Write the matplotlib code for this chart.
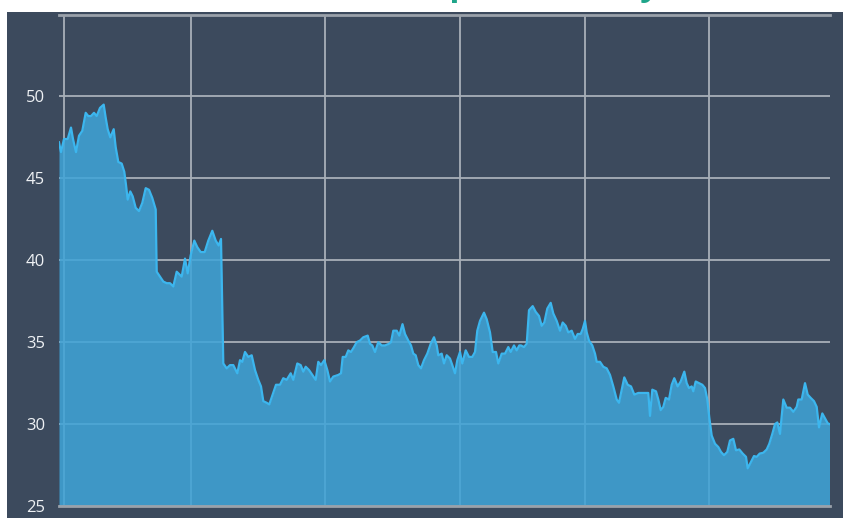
import matplotlib
matplotlib.use("Agg")
import matplotlib.pyplot as plt
from matplotlib.patches import Rectangle

# x position along the time axis (trading-day scale) and price values
t = [0, 2, 5, 8.7, 12, 14, 17, 20, 23.3, 26.7, 29.3, 32, 35, 37.7, 41, 44.7, 46.7, 48.7,
     51.3, 54.7, 56.7, 59.3, 62.7, 65.3, 67, 68.7, 71.3, 73.7, 76.7, 80, 83.3, 86.7, 90,
     93.3, 96.7, 97.7, 101, 104.3, 107.7, 111, 114.3, 117.7, 122.7, 126, 128.7, 131.7,
     135.3, 138.3, 141.7, 145.7, 149.3, 153.3, 156.7, 159.7, 162, 164.3, 167.7, 171,
     174.3, 178.3, 181, 183.3, 186, 189.3, 192.7, 196, 199.3, 202, 204.3, 207.7, 210.3,
     213.7, 217, 221, 224.3, 227.7, 231.7, 234.3, 238.3, 241.7, 244.3, 246.7, 250, 253.3,
     256.7, 259.3, 262, 265.3, 268.3, 271, 274.3, 279.3, 282, 283.7, 286.7, 289.3, 292,
     295, 297.7, 301, 304.3, 308.7, 311, 313.3, 316, 319.3, 322.7, 326, 330, 332, 334.3,
     337.7, 340.3, 343.5, 346, 349.3, 352, 354.3, 356.7, 359.3, 362, 365, 368.3, 371.7,
     375, 377.7, 379.3, 382.7, 385, 387.7, 391, 393.3, 396, 398.3, 401, 403.3, 406.7, 410,
     413.3, 416, 418.3, 421, 425, 427.7, 431, 433.7, 437, 439.3, 442.7, 446, 449.3, 451.7,
     455, 457.7, 460.3, 462, 465, 467.7, 470, 473.7, 476.7, 480, 482.7, 485.3, 488.3,
     491.7, 494.3, 497.7, 501, 503.7, 506.7, 509.3, 512.7, 516, 518.7, 521.7, 523.7, 526,
     527.7, 530, 533.3, 536, 537.7, 541, 544.3, 547.7, 551, 554.3, 557.7, 560, 562.7,
     565.3, 568.7, 572, 575.3, 579.3, 582.7, 586, 589.3, 591, 593.3, 597, 599.3, 601.7,
     604.3, 606.7, 610, 612.7, 615.3, 618.7, 621.7, 625.3, 627.7, 630, 632.7, 634.3,
     636.7, 640, 643.3, 646, 648.3, 650.3, 652.7, 656, 659.3, 662, 665, 668.3, 671, 674.3,
     677, 680.3, 683.7, 687, 688.7, 692, 695, 697.7, 700.7, 704.3, 707.7, 710.3, 713.3,
     716, 718.3, 721, 724.3, 727.7, 731, 734.3, 737.7, 739.3, 742.7, 746, 748.7, 751.7,
     755, 757.7, 760, 763.3, 766, 768.7, 770.5]

price = [47.2, 46.6, 47.4, 47.4, 48.1, 47.4, 46.6, 47.6, 47.9, 49.0, 48.8, 48.8, 49.0, 48.8,
         49.3, 49.5, 48.7, 48.0, 47.5, 48.0, 46.9, 46.0, 45.9, 45.4, 44.6, 43.7, 44.2, 43.9,
         43.2, 43.0, 43.5, 44.4, 44.3, 43.8, 43.1, 39.3, 39.0, 38.7, 38.6, 38.6, 38.4, 39.3,
         39.0, 40.1, 39.2, 40.3, 41.2, 40.8, 40.5, 40.5, 41.2, 41.8, 41.2, 40.9, 41.3, 33.7,
         33.4, 33.6, 33.6, 33.1, 33.9, 33.8, 34.4, 34.1, 34.2, 33.3, 32.7, 32.3, 31.4, 31.3,
         31.2, 31.8, 32.4, 32.4, 32.8, 32.7, 33.1, 32.7, 33.7, 33.6, 33.2, 33.5, 33.3, 33.0,
         32.7, 33.8, 33.6, 33.9, 33.3, 32.6, 32.9, 33.0, 33.1, 34.1, 34.1, 34.5, 34.4, 34.7,
         35.0, 35.1, 35.3, 35.4, 34.9, 34.8, 34.4, 35.0, 34.8, 34.8, 34.9, 35.0, 35.7, 35.7,
         35.4, 36.1, 35.5, 35.1, 34.8, 34.3, 34.2, 33.6, 33.4, 33.9, 34.3, 34.9, 35.3, 34.8,
         34.2, 34.3, 33.7, 34.2, 34.0, 33.6, 33.1, 33.9, 34.4, 33.7, 34.5, 34.1, 34.1, 34.4,
         35.7, 36.3, 36.8, 36.4, 35.6, 34.4, 34.4, 33.7, 34.3, 34.3, 34.7, 34.4, 34.8, 34.5,
         34.8, 34.8, 34.7, 34.9, 36.95, 37.2, 36.85, 36.6, 36.0, 36.2, 37.05, 37.4, 36.75,
         36.3, 35.7, 36.2, 36.0, 35.6, 35.7, 35.2, 35.5, 35.5, 35.8, 36.3, 35.6, 35.1, 34.8,
         34.3, 33.8, 33.8, 33.5, 33.4, 33.0, 32.3, 31.5, 31.3, 32.1, 32.85, 32.4, 32.3, 31.8,
         31.9, 31.9, 31.9, 31.9, 30.5, 32.1, 32.0, 31.5, 30.85, 31.05, 31.6, 31.5, 32.4, 32.8,
         32.3, 32.6, 33.2, 32.5, 32.2, 32.3, 32.0, 32.6, 32.5, 32.4, 32.2, 31.5, 30.4, 29.3,
         28.8, 28.6, 28.3, 28.1, 28.3, 29.0, 29.1, 28.4, 28.45, 28.2, 28.0, 27.3, 27.7,
         28.05, 28.0, 28.2, 28.25, 28.45, 28.8, 29.4, 30.0, 30.1, 29.4, 31.5, 31.0, 31.0,
         30.75, 31.05, 31.5, 31.5, 32.5, 31.8, 31.6, 31.4, 31.05, 29.8, 30.65, 30.35, 30.05,
         30.0]

period_ticks = [5, 132, 266, 401, 526, 650]
y_ticks = [25, 30, 35, 40, 45, 50, 55]
y_labels = ["25", "30", "35", "40", "45", "50", ""]
title_text = "Share price history"

BG = "#3c4a5d"
W, H = 843, 518

plt.rcParams["font.family"] = ["Open Sans", "DejaVu Sans"]
fig = plt.figure(figsize=(W / 100, H / 100), dpi=100, facecolor="white")
bg = Rectangle((7 / W, 0), 1, (H - 12) / H, transform=fig.transFigure,
               facecolor=BG, edgecolor="none", zorder=-10)
fig.add_artist(bg)

ax = fig.add_axes([59 / W, 12 / H, (830 - 59) / W, (506 - 14.5) / H])
ax.set_zorder(1)
ax.set_facecolor(BG)

ax.fill_between(t, price, 25, color="#3fa4d8", alpha=0.86, linewidth=0, zorder=2)
ax.plot(t, price, color="#3cb6ee", linewidth=1.6, zorder=3)

ax.set_xlim(0, 771)
ax.set_ylim(25, 55)
ax.set_xticks(period_ticks)
ax.set_xticklabels([])
ax.set_yticks(y_ticks)
ax.set_yticklabels(y_labels)
ax.grid(True, color="#a8afb8", linewidth=1.3, zorder=1)
ax.set_axisbelow(True)
ax.tick_params(axis="both", length=0)
ax.tick_params(axis="y", colors="#eef1f4", labelsize=12, pad=10)

for s in ["left", "right"]:
    ax.spines[s].set_visible(False)
for s in ["top", "bottom"]:
    ax.spines[s].set_color("#9aa1aa")
    ax.spines[s].set_linewidth(2)

fig.text(503 / W, 1.0 + 5 / H, title_text, ha="center", va="baseline", color="#1fa58a",
         fontsize=24, fontweight="bold")

fig.savefig("out.png", dpi=100, facecolor="white")
